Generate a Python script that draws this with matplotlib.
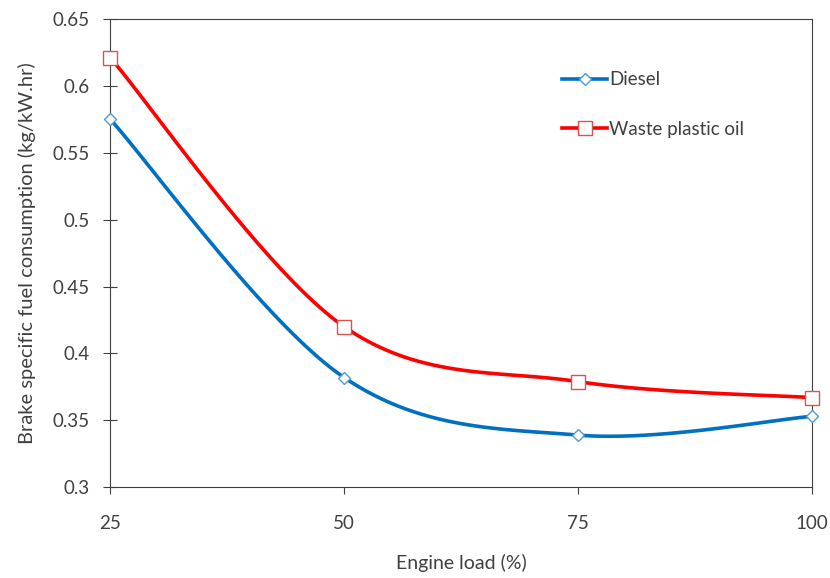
import matplotlib
matplotlib.use("Agg")
import matplotlib.pyplot as plt
import numpy as np

plt.rcParams['font.family'] = ['Lato', 'DejaVu Sans']

load = [25, 50, 75, 100]
diesel = [0.575, 0.382, 0.339, 0.353]
wpo = [0.621, 0.420, 0.379, 0.367]


def smooth(xs, ys, n=40):
    # excel-like smoothed line (bezier through the points)
    p = np.column_stack([xs, ys]).astype(float)
    out = [p[0]]
    for i in range(len(p) - 1):
        p0 = p[i - 1] if i > 0 else p[i]
        p3 = p[i + 2] if i + 2 < len(p) else p[i + 1]
        c1 = p[i] + (p[i + 1] - p0) / 6
        c2 = p[i + 1] - (p3 - p[i]) / 6
        t = np.linspace(0, 1, n)[1:, None]
        b = ((1 - t) ** 3 * p[i] + 3 * (1 - t) ** 2 * t * c1
             + 3 * (1 - t) * t ** 2 * c2 + t ** 3 * p[i + 1])
        out.extend(b)
    out = np.array(out)
    return out[:, 0], out[:, 1]


fig, ax = plt.subplots(figsize=(8.3, 5.78), dpi=100)
fig.subplots_adjust(left=0.133, right=0.978, top=0.967, bottom=0.157)

dcol = '#0070C0'
rcol = '#FF0000'
txt = '#404040'

sx, sy = smooth(load, diesel)
ax.plot(sx, sy, color=dcol, lw=2.6, zorder=2)
ax.plot(load, diesel, ls='none', marker='D', ms=6.5, mfc='white', mec='#4A9BDD',
        mew=1.0, zorder=3, clip_on=False)
sx, sy = smooth(load, wpo)
ax.plot(sx, sy, color=rcol, lw=2.6, zorder=2)
ax.plot(load, wpo, ls='none', marker='s', ms=10, mfc='white', mec='#D9534F',
        mew=1.0, zorder=3, clip_on=False)

ax.plot([], [], color=dcol, lw=2.6, marker='D', ms=6.5, mfc='white', mec='#4A9BDD',
        label='Diesel')
ax.plot([], [], color=rcol, lw=2.6, marker='s', ms=10, mfc='white', mec='#D9534F',
        label='Waste plastic oil')

ax.set_xlim(25, 100)
ax.set_ylim(0.3, 0.65)
ax.set_xticks(load)
ax.set_xticklabels(['25', '50', '75', '100'])
yt = [0.3, 0.35, 0.4, 0.45, 0.5, 0.55, 0.6, 0.65]
ax.set_yticks(yt)
ax.set_yticklabels(['0.3', '0.35', '0.4', '0.45', '0.5', '0.55', '0.6', '0.65'])

ax.tick_params(axis='x', direction='out', length=5, width=0.8, pad=15,
               labelsize=13.5, colors=txt)
ax.tick_params(axis='y', direction='inout', length=10, width=0.8, pad=10,
               labelsize=13.5, colors=txt)
for s in ax.spines.values():
    s.set_color(txt)
    s.set_linewidth(0.8)

ax.set_xlabel('Engine load (%)', fontsize=14, color=txt, labelpad=16)
ax.set_ylabel('Brake specific fuel consumption (kg/kW.hr)', fontsize=14.5,
              color=txt, labelpad=12)

leg = ax.legend(loc='upper left', bbox_to_anchor=(0.62, 0.925), frameon=False,
                fontsize=13.5, handlelength=2.4, handletextpad=0.1,
                labelspacing=1.75)
for t in leg.get_texts():
    t.set_color(txt)

fig.savefig('out.png', dpi=100)
